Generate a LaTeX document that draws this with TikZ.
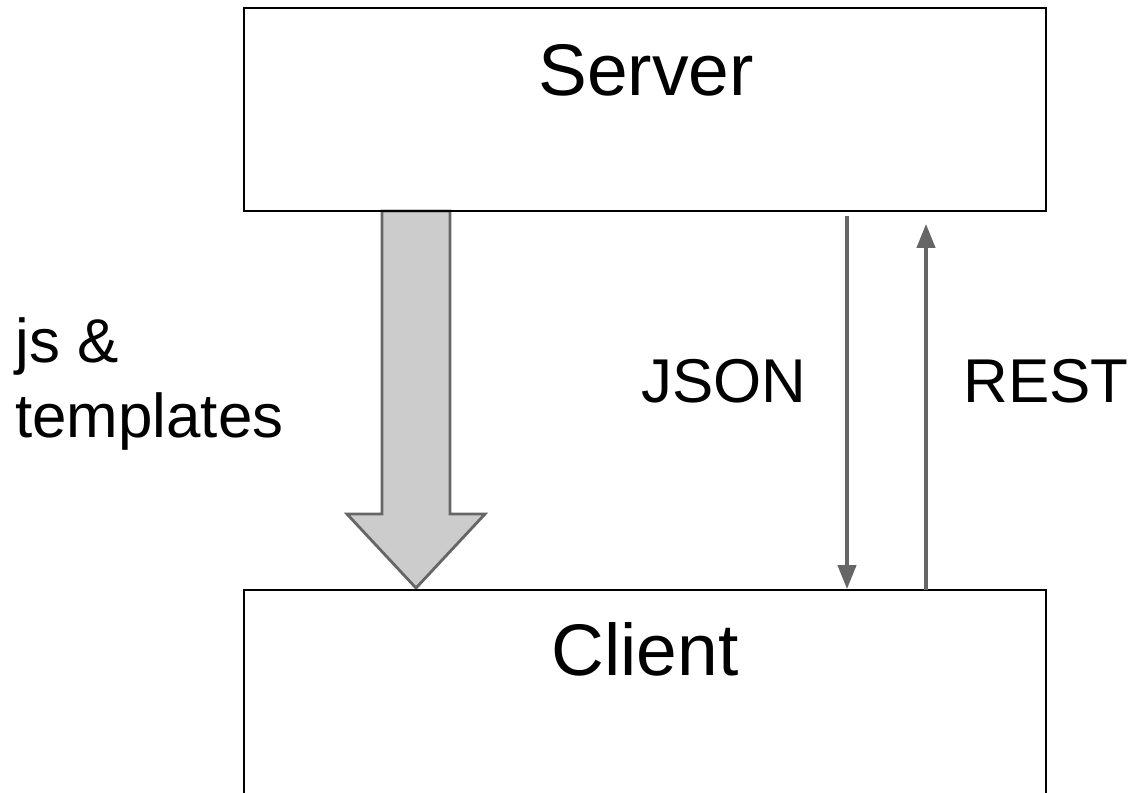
\documentclass[tikz,border=0pt]{standalone}
\usepackage{fontspec}
\setmainfont{Liberation Sans}
\usetikzlibrary{arrows.meta,backgrounds}
\definecolor{arrowgray}{HTML}{666666}
\definecolor{fatgray}{HTML}{CCCCCC}

\begin{document}
\begin{tikzpicture}[x=0.025cm,y=-0.025cm,
  box/.style={draw=black, line width=1.4pt, minimum width=20.05cm, minimum height=5.075cm, inner sep=0pt},
  big/.style={font=\fontsize{52}{62}\selectfont, inner sep=0pt, anchor=base},
  lbl/.style={font=\fontsize{44}{53}\selectfont, inner sep=0pt, anchor=base},
  msg/.style={draw=arrowgray, line width=2.4pt, -{Triangle[length=17pt,width=13pt]}},
  fatarrow/.style={draw=arrowgray, fill=fatgray, line width=2pt, line join=miter}]
  \useasboundingbox (0,0) rectangle (1132,792);
  \node[box] (server) at (645,109.5) {};
  % the client box runs on past the bottom edge
  \node[box, minimum height=5.3cm] (client) at (645,696) {};
  \node[big] (servername) at (646,95) {Server};
  \node[big] (clientname) at (645,675) {Client};
  \node[lbl] (json) at (724,402) {JSON};
  \node[lbl] (rest) at (1046,402) {REST};
  \node[lbl, anchor=base west, align=left] (files) at (15,437) {js \&\\templates};
  \coordinate (jsonstart) at (847,216);
  \coordinate (reststart) at (926,590);
  \coordinate (restend) at (926,224);
  \draw[msg] (jsonstart) -- (jsonstart |- client.north);
  \draw[msg] (reststart) -- (restend);
  \begin{scope}[on background layer]
    \coordinate (fattip) at (416,588);
    \draw[fatarrow] (382,211) -- (382,514) -- (347,514) -- (fattip)
      -- (485,514) -- (450,514) -- (450,211) -- cycle;
  \end{scope}
\end{tikzpicture}
\end{document}
